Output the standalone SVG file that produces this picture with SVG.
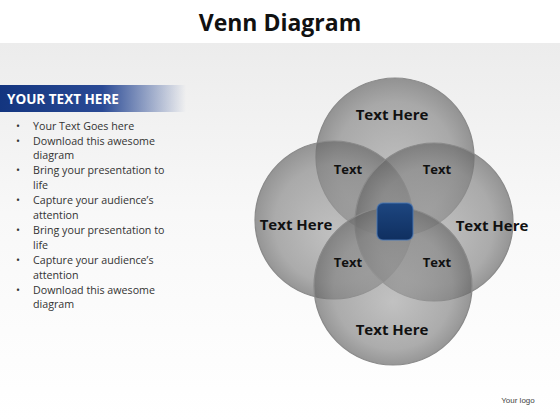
<svg xmlns="http://www.w3.org/2000/svg" width="560" height="420" viewBox="0 0 560 420">
<defs>
<linearGradient id="bg" x1="0" y1="0" x2="0" y2="1">
<stop offset="0" stop-color="#ececec"/>
<stop offset="0.45" stop-color="#f8f8f8"/>
<stop offset="1" stop-color="#ffffff"/>
</linearGradient>
<linearGradient id="bar" x1="0" y1="0" x2="1" y2="0">
<stop offset="0" stop-color="#13357f"/>
<stop offset="0.55" stop-color="#2a4a95"/>
<stop offset="1" stop-color="#2a4a95" stop-opacity="0"/>
</linearGradient>
<radialGradient id="cg" cx="0.5" cy="0.5" r="0.5" fx="0.5" fy="0.6">
<stop offset="0" stop-color="#a6a6a6"/>
<stop offset="0.75" stop-color="#868686"/>
<stop offset="1" stop-color="#666666"/>
</radialGradient>
<linearGradient id="sq" x1="0" y1="0" x2="0" y2="1">
<stop offset="0" stop-color="#1d4680"/>
<stop offset="1" stop-color="#0f2f60"/>
</linearGradient>
</defs>
<style>
.c{fill:url(#cg);fill-opacity:0.68;stroke:#8a8a8a;stroke-width:1.2}
.big{font-family:"Open Sans","Liberation Sans",sans-serif;font-weight:bold;font-size:15px;fill:#111;text-anchor:middle}
.sm{font-family:"Open Sans","Liberation Sans",sans-serif;font-weight:bold;font-size:13px;fill:#111;text-anchor:middle}
.b{font-family:"Open Sans","Liberation Sans",sans-serif;font-size:10.7px;fill:#333}
</style>
<rect x="0" y="0" width="560" height="420" fill="#ffffff"/>
<rect x="0" y="43" width="560" height="377" fill="url(#bg)"/>
<text x="280" y="31" font-family="Open Sans, Liberation Sans, sans-serif" font-weight="bold" font-size="23" fill="#111" text-anchor="middle">Venn Diagram</text>
<g id="header">
<rect x="0" y="85" width="186" height="27" fill="url(#bar)"/>
<text x="7" y="104" font-family="Open Sans, Liberation Sans, sans-serif" font-weight="bold" font-size="13.5" fill="#ffffff">YOUR TEXT HERE</text>
</g>
<g id="bullets" class="b">
<text x="16" y="130">•</text><text x="33" y="130">Your Text Goes here</text>
<text x="16" y="145">•</text><text x="33" y="145">Download this awesome</text>
<text x="33" y="159">diagram</text>
<text x="16" y="174">•</text><text x="33" y="174">Bring your presentation to</text>
<text x="33" y="189">life</text>
<text x="16" y="204">•</text><text x="33" y="204">Capture your audience’s</text>
<text x="33" y="219">attention</text>
<text x="16" y="234">•</text><text x="33" y="234">Bring your presentation to</text>
<text x="33" y="249">life</text>
<text x="16" y="264">•</text><text x="33" y="264">Capture your audience’s</text>
<text x="33" y="279">attention</text>
<text x="16" y="294">•</text><text x="33" y="294">Download this awesome</text>
<text x="33" y="308">diagram</text>
</g>
<g id="connectors"></g>
<g id="circle-top"><circle class="c" cx="395" cy="157" r="79"/></g>
<g id="circle-left"><circle class="c" cx="334" cy="220" r="79"/></g>
<g id="circle-right"><circle class="c" cx="434" cy="222" r="79"/></g>
<g id="circle-bottom"><circle class="c" cx="393" cy="286" r="79"/></g>
<g id="center">
<rect x="377" y="203" width="36" height="37" rx="6" fill="url(#sq)" stroke="#4a78b8" stroke-width="1.5" stroke-opacity="0.6"/>
</g>
<g id="labels">
<text class="big" x="392" y="120">Text Here</text>
<text class="big" x="296" y="230">Text Here</text>
<text class="big" x="492" y="231">Text Here</text>
<text class="big" x="392" y="335">Text Here</text>
<text class="sm" x="348" y="174">Text</text>
<text class="sm" x="437" y="174">Text</text>
<text class="sm" x="348" y="267">Text</text>
<text class="sm" x="437" y="267">Text</text>
</g>
<text x="518" y="403" font-family="Liberation Sans, sans-serif" font-size="8" fill="#444" text-anchor="middle">Your logo</text>
</svg>
